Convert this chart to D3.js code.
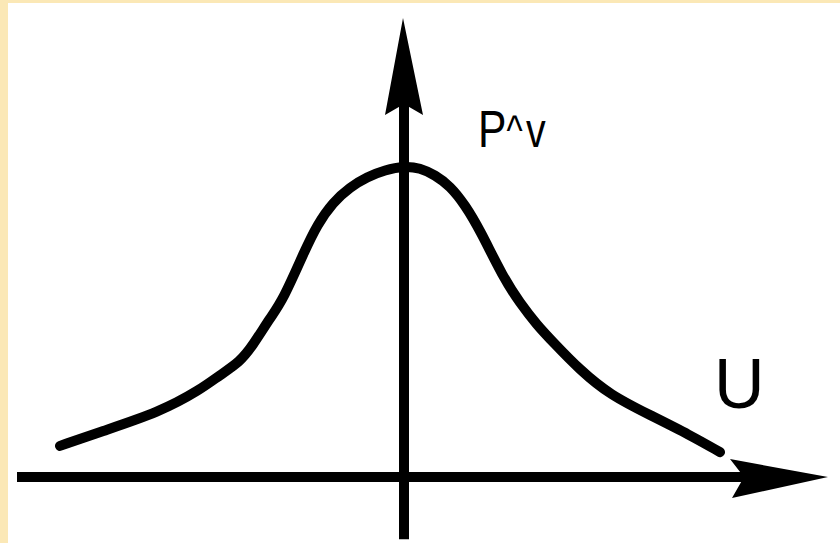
<!DOCTYPE html>
<html>
<head>
<meta charset="utf-8">
<script src="https://cdn.jsdelivr.net/npm/d3@7"></script>
<style>
  html, body { margin: 0; padding: 0; background: #fbe8b6; }
  svg { display: block; }
</style>
</head>
<body>
<svg id="chart" width="840" height="543"></svg>
<script>
// Distribution curve: speed u against probability density P^v
const uValues = [-3.44, -3.04, -2.44, -2.04, -1.84, -1.64, -1.51, -1.34, -1.21, -0.99,
                 -0.87, -0.71, -0.54, -0.37, -0.19, 0, 0.16, 0.31, 0.46, 0.61,
                 0.76, 0.99, 1.16, 1.33, 1.49, 1.76, 2.06, 2.46, 2.86, 3.16];
const pValues = [0.100, 0.145, 0.209, 0.280, 0.328, 0.370, 0.424, 0.511, 0.569, 0.730,
                 0.810, 0.884, 0.932, 0.965, 0.987, 1.000, 0.994, 0.971, 0.936, 0.875,
                 0.794, 0.643, 0.559, 0.489, 0.434, 0.344, 0.264, 0.199, 0.135, 0.080];
const axisLabels = { x: "U", y: ["P", "^", "v"] };

const svg = d3.select("#chart");
const W = 840, H = 543;

// paper: cream frame with white sheet
svg.append("rect").attr("width", W).attr("height", H).attr("fill", "#fbe8b6");
svg.append("rect").attr("x", 8).attr("y", 3).attr("width", W - 8).attr("height", H - 3).attr("fill", "#ffffff");

const x = d3.scaleLinear().domain([-4, 4]).range([4, 804]);
const y = d3.scaleLinear().domain([0, 1]).range([477, 166]);

const ink = "#000";
const axisW = 10;

// horizontal axis with arrow
const xStart = x(-3.87), xTip = x(4.24), y0 = y(0);
svg.append("line")
  .attr("x1", xStart).attr("x2", xTip - 40)
  .attr("y1", y0).attr("y2", y0)
  .attr("stroke", ink).attr("stroke-width", axisW);
svg.append("path")
  .attr("d", `M${xTip},${y0} L${xTip - 98},${y0 - 18} L${xTip - 84},${y0} L${xTip - 96},${y0 + 21} Z`)
  .attr("fill", ink);

// vertical axis with arrow
const x0 = x(0), yBottom = y(-0.2), yTip = y(1.476);
svg.append("line")
  .attr("x1", x0).attr("x2", x0)
  .attr("y1", yBottom).attr("y2", yTip + 40)
  .attr("stroke", ink).attr("stroke-width", axisW);
svg.append("path")
  .attr("d", `M${x0 - 1},${yTip} L${x0 + 19},${yTip + 97} L${x0},${yTip + 86} L${x0 - 19},${yTip + 97} Z`)
  .attr("fill", ink);

// the bell-shaped curve
const line = d3.line()
  .x((d, i) => x(uValues[i]))
  .y((d, i) => y(pValues[i]))
  .curve(d3.curveBasis);
svg.append("path")
  .datum(uValues)
  .attr("d", line)
  .attr("fill", "none")
  .attr("stroke", ink)
  .attr("stroke-width", 10)
  .attr("stroke-linecap", "round")
  .attr("stroke-linejoin", "round");

// axis labels
svg.append("text")
  .attr("x", 714).attr("y", 408)
  .attr("font-family", "Liberation Sans, Arial, sans-serif")
  .attr("font-size", 70)
  .attr("fill", ink)
  .text(axisLabels.x);

const yl = svg.append("text")
  .attr("transform", "translate(478,147) scale(0.82,1)")
  .attr("font-family", "Liberation Sans, Arial, sans-serif")
  .attr("font-size", 52)
  .attr("fill", ink);
yl.append("tspan").text(axisLabels.y[0]);
yl.append("tspan").attr("font-size", 42).attr("dy", -2).text(axisLabels.y[1]);
yl.append("tspan").attr("font-size", 48).attr("dy", 2).attr("dx", 4).text(axisLabels.y[2]);
</script>
</body>
</html>
